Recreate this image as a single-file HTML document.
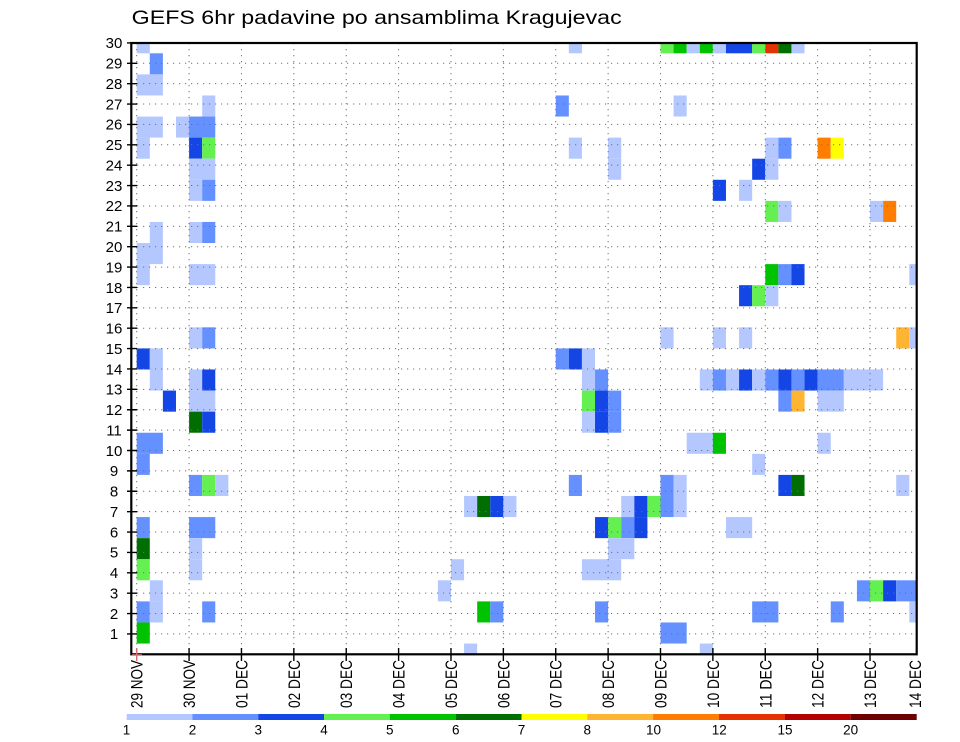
<!DOCTYPE html>
<html>
<head>
<meta charset="utf-8">
<style>
  html,body{margin:0;padding:0;background:#fff;}
  svg{display:block;}
  text{font-family:"Liberation Sans",Arial,sans-serif;fill:#000;}
  .a1{fill:#b4c8ff}
  .a2{fill:#6491ff}
  .a3{fill:#1446e6}
  .a4{fill:#64f050}
  .a5{fill:#00c300}
  .a6{fill:#006e00}
  .a7{fill:#ffff00}
  .a8{fill:#ffb432}
  .a9{fill:#ff7d00}
  .a10{fill:#e63200}
  .a11{fill:#b40000}
  .a12{fill:#6e0000}
</style>
</head>
<body>
<svg width="960" height="742" viewBox="0 0 960 742" xmlns="http://www.w3.org/2000/svg">
  <defs>
    <clipPath id="plot"><rect x="131" y="43" width="785.7" height="611.3"/></clipPath>
  </defs>

  <!-- Title -->
  <text x="131.7" y="24" font-size="19.5" textLength="490" lengthAdjust="spacingAndGlyphs">GEFS 6hr padavine po ansamblima Kragujevac</text>

  <!-- Cells -->
  <g clip-path="url(#plot)">
    <g transform="translate(136.7,32.22) scale(13.095,21.08)">
      <!-- band 0 -->
      <rect class="a1" x="0" y="0" width="1" height="1"/>
      <rect class="a1" x="33" y="0" width="1" height="1"/>
      <rect class="a4" x="40" y="0" width="1" height="1"/>
      <rect class="a5" x="41" y="0" width="1" height="1"/>
      <rect class="a1" x="42" y="0" width="1" height="1"/>
      <rect class="a5" x="43" y="0" width="1" height="1"/>
      <rect class="a1" x="44" y="0" width="1" height="1"/>
      <rect class="a3" x="45" y="0" width="2" height="1"/>
      <rect class="a4" x="47" y="0" width="1" height="1"/>
      <rect class="a10" x="48" y="0" width="1" height="1"/>
      <rect class="a6" x="49" y="0" width="1" height="1"/>
      <rect class="a1" x="50" y="0" width="1" height="1"/>
      <!-- band 1 -->
      <rect class="a2" x="1" y="1" width="1" height="1"/>
      <!-- band 2 -->
      <rect class="a1" x="0" y="2" width="2" height="1"/>
      <!-- band 3 -->
      <rect class="a1" x="5" y="3" width="1" height="1"/>
      <rect class="a2" x="32" y="3" width="1" height="1"/>
      <rect class="a1" x="41" y="3" width="1" height="1"/>
      <!-- band 4 -->
      <rect class="a1" x="0" y="4" width="2" height="1"/>
      <rect class="a1" x="3" y="4" width="1" height="1"/>
      <rect class="a2" x="4" y="4" width="2" height="1"/>
      <!-- band 5 -->
      <rect class="a1" x="0" y="5" width="1" height="1"/>
      <rect class="a3" x="4" y="5" width="1" height="1"/>
      <rect class="a4" x="5" y="5" width="1" height="1"/>
      <rect class="a1" x="33" y="5" width="1" height="1"/>
      <rect class="a1" x="36" y="5" width="1" height="1"/>
      <rect class="a1" x="48" y="5" width="1" height="1"/>
      <rect class="a2" x="49" y="5" width="1" height="1"/>
      <rect class="a9" x="52" y="5" width="1" height="1"/>
      <rect class="a7" x="53" y="5" width="1" height="1"/>
      <!-- band 6 -->
      <rect class="a1" x="4" y="6" width="2" height="1"/>
      <rect class="a1" x="36" y="6" width="1" height="1"/>
      <rect class="a3" x="47" y="6" width="1" height="1"/>
      <rect class="a1" x="48" y="6" width="1" height="1"/>
      <!-- band 7 -->
      <rect class="a1" x="4" y="7" width="1" height="1"/>
      <rect class="a2" x="5" y="7" width="1" height="1"/>
      <rect class="a3" x="44" y="7" width="1" height="1"/>
      <rect class="a1" x="46" y="7" width="1" height="1"/>
      <!-- band 8 -->
      <rect class="a4" x="48" y="8" width="1" height="1"/>
      <rect class="a1" x="49" y="8" width="1" height="1"/>
      <rect class="a1" x="56" y="8" width="1" height="1"/>
      <rect class="a9" x="57" y="8" width="1" height="1"/>
      <!-- band 9 -->
      <rect class="a1" x="1" y="9" width="1" height="1"/>
      <rect class="a1" x="4" y="9" width="1" height="1"/>
      <rect class="a2" x="5" y="9" width="1" height="1"/>
      <!-- band 10 -->
      <rect class="a1" x="0" y="10" width="2" height="1"/>
      <!-- band 11 -->
      <rect class="a1" x="0" y="11" width="1" height="1"/>
      <rect class="a1" x="4" y="11" width="2" height="1"/>
      <rect class="a5" x="48" y="11" width="1" height="1"/>
      <rect class="a2" x="49" y="11" width="1" height="1"/>
      <rect class="a3" x="50" y="11" width="1" height="1"/>
      <rect class="a1" x="59" y="11" width="1" height="1"/>
      <!-- band 12 -->
      <rect class="a3" x="46" y="12" width="1" height="1"/>
      <rect class="a4" x="47" y="12" width="1" height="1"/>
      <rect class="a1" x="48" y="12" width="1" height="1"/>
      <!-- band 14 -->
      <rect class="a1" x="4" y="14" width="1" height="1"/>
      <rect class="a2" x="5" y="14" width="1" height="1"/>
      <rect class="a1" x="40" y="14" width="1" height="1"/>
      <rect class="a1" x="44" y="14" width="1" height="1"/>
      <rect class="a1" x="46" y="14" width="1" height="1"/>
      <rect class="a8" x="58" y="14" width="1" height="1"/>
      <rect class="a1" x="59" y="14" width="1" height="1"/>
      <!-- band 15 -->
      <rect class="a3" x="0" y="15" width="1" height="1"/>
      <rect class="a1" x="1" y="15" width="1" height="1"/>
      <rect class="a2" x="32" y="15" width="1" height="1"/>
      <rect class="a3" x="33" y="15" width="1" height="1"/>
      <rect class="a1" x="34" y="15" width="1" height="1"/>
      <!-- band 16 -->
      <rect class="a1" x="1" y="16" width="1" height="1"/>
      <rect class="a1" x="4" y="16" width="1" height="1"/>
      <rect class="a3" x="5" y="16" width="1" height="1"/>
      <rect class="a1" x="34" y="16" width="1" height="1"/>
      <rect class="a2" x="35" y="16" width="1" height="1"/>
      <rect class="a1" x="43" y="16" width="1" height="1"/>
      <rect class="a2" x="44" y="16" width="1" height="1"/>
      <rect class="a1" x="45" y="16" width="1" height="1"/>
      <rect class="a3" x="46" y="16" width="1" height="1"/>
      <rect class="a1" x="47" y="16" width="1" height="1"/>
      <rect class="a2" x="48" y="16" width="1" height="1"/>
      <rect class="a3" x="49" y="16" width="1" height="1"/>
      <rect class="a2" x="50" y="16" width="1" height="1"/>
      <rect class="a3" x="51" y="16" width="1" height="1"/>
      <rect class="a2" x="52" y="16" width="2" height="1"/>
      <rect class="a1" x="54" y="16" width="3" height="1"/>
      <!-- band 17 -->
      <rect class="a3" x="2" y="17" width="1" height="1"/>
      <rect class="a1" x="4" y="17" width="2" height="1"/>
      <rect class="a4" x="34" y="17" width="1" height="1"/>
      <rect class="a3" x="35" y="17" width="1" height="1"/>
      <rect class="a2" x="36" y="17" width="1" height="1"/>
      <rect class="a2" x="49" y="17" width="1" height="1"/>
      <rect class="a8" x="50" y="17" width="1" height="1"/>
      <rect class="a1" x="52" y="17" width="2" height="1"/>
      <!-- band 18 -->
      <rect class="a6" x="4" y="18" width="1" height="1"/>
      <rect class="a3" x="5" y="18" width="1" height="1"/>
      <rect class="a1" x="34" y="18" width="1" height="1"/>
      <rect class="a3" x="35" y="18" width="1" height="1"/>
      <rect class="a2" x="36" y="18" width="1" height="1"/>
      <!-- band 19 -->
      <rect class="a2" x="0" y="19" width="2" height="1"/>
      <rect class="a1" x="42" y="19" width="2" height="1"/>
      <rect class="a5" x="44" y="19" width="1" height="1"/>
      <rect class="a1" x="52" y="19" width="1" height="1"/>
      <!-- band 20 -->
      <rect class="a2" x="0" y="20" width="1" height="1"/>
      <rect class="a1" x="47" y="20" width="1" height="1"/>
      <!-- band 21 -->
      <rect class="a2" x="4" y="21" width="1" height="1"/>
      <rect class="a4" x="5" y="21" width="1" height="1"/>
      <rect class="a1" x="6" y="21" width="1" height="1"/>
      <rect class="a2" x="33" y="21" width="1" height="1"/>
      <rect class="a2" x="40" y="21" width="1" height="1"/>
      <rect class="a1" x="41" y="21" width="1" height="1"/>
      <rect class="a3" x="49" y="21" width="1" height="1"/>
      <rect class="a6" x="50" y="21" width="1" height="1"/>
      <rect class="a1" x="58" y="21" width="1" height="1"/>
      <!-- band 22 -->
      <rect class="a1" x="25" y="22" width="1" height="1"/>
      <rect class="a6" x="26" y="22" width="1" height="1"/>
      <rect class="a3" x="27" y="22" width="1" height="1"/>
      <rect class="a1" x="28" y="22" width="1" height="1"/>
      <rect class="a1" x="37" y="22" width="1" height="1"/>
      <rect class="a3" x="38" y="22" width="1" height="1"/>
      <rect class="a4" x="39" y="22" width="1" height="1"/>
      <rect class="a2" x="40" y="22" width="1" height="1"/>
      <rect class="a1" x="41" y="22" width="1" height="1"/>
      <!-- band 23 -->
      <rect class="a2" x="0" y="23" width="1" height="1"/>
      <rect class="a2" x="4" y="23" width="2" height="1"/>
      <rect class="a3" x="35" y="23" width="1" height="1"/>
      <rect class="a4" x="36" y="23" width="1" height="1"/>
      <rect class="a2" x="37" y="23" width="1" height="1"/>
      <rect class="a3" x="38" y="23" width="1" height="1"/>
      <rect class="a1" x="45" y="23" width="2" height="1"/>
      <!-- band 24 -->
      <rect class="a6" x="0" y="24" width="1" height="1"/>
      <rect class="a1" x="4" y="24" width="1" height="1"/>
      <rect class="a1" x="36" y="24" width="2" height="1"/>
      <!-- band 25 -->
      <rect class="a4" x="0" y="25" width="1" height="1"/>
      <rect class="a1" x="4" y="25" width="1" height="1"/>
      <rect class="a1" x="24" y="25" width="1" height="1"/>
      <rect class="a1" x="34" y="25" width="3" height="1"/>
      <!-- band 26 -->
      <rect class="a1" x="1" y="26" width="1" height="1"/>
      <rect class="a1" x="23" y="26" width="1" height="1"/>
      <rect class="a2" x="55" y="26" width="1" height="1"/>
      <rect class="a4" x="56" y="26" width="1" height="1"/>
      <rect class="a3" x="57" y="26" width="1" height="1"/>
      <rect class="a2" x="58" y="26" width="2" height="1"/>
      <!-- band 27 -->
      <rect class="a2" x="0" y="27" width="1" height="1"/>
      <rect class="a1" x="1" y="27" width="1" height="1"/>
      <rect class="a2" x="5" y="27" width="1" height="1"/>
      <rect class="a5" x="26" y="27" width="1" height="1"/>
      <rect class="a2" x="27" y="27" width="1" height="1"/>
      <rect class="a2" x="35" y="27" width="1" height="1"/>
      <rect class="a2" x="47" y="27" width="2" height="1"/>
      <rect class="a2" x="53" y="27" width="1" height="1"/>
      <rect class="a1" x="59" y="27" width="1" height="1"/>
      <!-- band 28 -->
      <rect class="a5" x="0" y="28" width="1" height="1"/>
      <rect class="a2" x="40" y="28" width="2" height="1"/>
      <!-- band 29 -->
      <rect class="a1" x="25" y="29" width="1" height="1"/>
      <rect class="a1" x="43" y="29" width="1" height="1"/>
    </g>
  </g>

  <!-- Dotted grid -->
  <g stroke="#707070" stroke-width="1" stroke-dasharray="1.2 4.8" fill="none">
    <path d="M131 633.92H916.7M131 613.54H916.7M131 593.16H916.7M131 572.78H916.7M131 552.4H916.7M131 532.02H916.7M131 511.64H916.7M131 491.26H916.7M131 470.88H916.7M131 450.5H916.7M131 430.12H916.7M131 409.74H916.7M131 389.36H916.7M131 368.98H916.7M131 348.6H916.7M131 328.22H916.7M131 307.84H916.7M131 287.46H916.7M131 267.08H916.7M131 246.7H916.7M131 226.32H916.7M131 205.94H916.7M131 185.56H916.7M131 165.18H916.7M131 144.8H916.7M131 124.42H916.7M131 104.04H916.7M131 83.66H916.7M131 63.28H916.7"/>
    <path d="M136.7 43V654M189.08 43V654M241.46 43V654M293.84 43V654M346.22 43V654M398.6 43V654M450.98 43V654M503.36 43V654M555.74 43V654M608.12 43V654M660.5 43V654M712.88 43V654M765.26 43V654M817.64 43V654M870.02 43V654"/>
  </g>

  <!-- Axis frame -->
  <rect x="131.3" y="43" width="785.4" height="611.3" fill="none" stroke="#000" stroke-width="2.2"/>

  <!-- Y ticks -->
  <path stroke="#000" stroke-width="1.4" fill="none" d="M127 633.92H137M127 613.54H137M127 593.16H137M127 572.78H137M127 552.4H137M127 532.02H137M127 511.64H137M127 491.26H137M127 470.88H137M127 450.5H137M127 430.12H137M127 409.74H137M127 389.36H137M127 368.98H137M127 348.6H137M127 328.22H137M127 307.84H137M127 287.46H137M127 267.08H137M127 246.7H137M127 226.32H137M127 205.94H137M127 185.56H137M127 165.18H137M127 144.8H137M127 124.42H137M127 104.04H137M127 83.66H137M127 63.28H137M127 42.9H137"/>

  <!-- X ticks -->
  <path stroke="#000" stroke-width="1.4" fill="none" d="M189.08 648V661M241.46 648V661M293.84 648V661M346.22 648V661M398.6 648V661M450.98 648V661M503.36 648V661M555.74 648V661M608.12 648V661M660.5 648V661M712.88 648V661M765.26 648V661M817.64 648V661M870.02 648V661"/>
  <path stroke="#d07070" stroke-width="1.4" fill="none" d="M136.7 648V661M132 655H142"/>

  <!-- Y labels -->
  <g font-size="15" text-anchor="middle">
    <text x="114" y="639.2">1</text>
    <text x="114" y="618.8">2</text>
    <text x="114" y="598.5">3</text>
    <text x="114" y="578.1">4</text>
    <text x="114" y="557.7">5</text>
    <text x="114" y="537.3">6</text>
    <text x="114" y="516.9">7</text>
    <text x="114" y="496.6">8</text>
    <text x="114" y="476.2">9</text>
    <text x="114" y="455.8">10</text>
    <text x="114" y="435.4">11</text>
    <text x="114" y="415">12</text>
    <text x="114" y="394.7">13</text>
    <text x="114" y="374.3">14</text>
    <text x="114" y="353.9">15</text>
    <text x="114" y="333.5">16</text>
    <text x="114" y="313.1">17</text>
    <text x="114" y="292.8">18</text>
    <text x="114" y="272.4">19</text>
    <text x="114" y="252">20</text>
    <text x="114" y="231.6">21</text>
    <text x="114" y="211.2">22</text>
    <text x="114" y="190.9">23</text>
    <text x="114" y="170.5">24</text>
    <text x="114" y="150.1">25</text>
    <text x="114" y="129.7">26</text>
    <text x="114" y="109.3">27</text>
    <text x="114" y="89">28</text>
    <text x="114" y="68.6">29</text>
    <text x="114" y="48.2">30</text>
  </g>

  <!-- X labels (rotated) -->
  <g font-size="16.5">
    <text transform="translate(136.7,708) rotate(-90)" x="0" y="6" textLength="48" lengthAdjust="spacingAndGlyphs">29 NOV</text>
    <text transform="translate(189.08,708) rotate(-90)" x="0" y="6" textLength="48" lengthAdjust="spacingAndGlyphs">30 NOV</text>
    <text transform="translate(241.46,708) rotate(-90)" x="0" y="6" textLength="48" lengthAdjust="spacingAndGlyphs">01 DEC</text>
    <text transform="translate(293.84,708) rotate(-90)" x="0" y="6" textLength="48" lengthAdjust="spacingAndGlyphs">02 DEC</text>
    <text transform="translate(346.22,708) rotate(-90)" x="0" y="6" textLength="48" lengthAdjust="spacingAndGlyphs">03 DEC</text>
    <text transform="translate(398.6,708) rotate(-90)" x="0" y="6" textLength="48" lengthAdjust="spacingAndGlyphs">04 DEC</text>
    <text transform="translate(450.98,708) rotate(-90)" x="0" y="6" textLength="48" lengthAdjust="spacingAndGlyphs">05 DEC</text>
    <text transform="translate(503.36,708) rotate(-90)" x="0" y="6" textLength="48" lengthAdjust="spacingAndGlyphs">06 DEC</text>
    <text transform="translate(555.74,708) rotate(-90)" x="0" y="6" textLength="48" lengthAdjust="spacingAndGlyphs">07 DEC</text>
    <text transform="translate(608.12,708) rotate(-90)" x="0" y="6" textLength="48" lengthAdjust="spacingAndGlyphs">08 DEC</text>
    <text transform="translate(660.5,708) rotate(-90)" x="0" y="6" textLength="48" lengthAdjust="spacingAndGlyphs">09 DEC</text>
    <text transform="translate(712.88,708) rotate(-90)" x="0" y="6" textLength="48" lengthAdjust="spacingAndGlyphs">10 DEC</text>
    <text transform="translate(765.26,708) rotate(-90)" x="0" y="6" textLength="48" lengthAdjust="spacingAndGlyphs">11 DEC</text>
    <text transform="translate(817.64,708) rotate(-90)" x="0" y="6" textLength="48" lengthAdjust="spacingAndGlyphs">12 DEC</text>
    <text transform="translate(870.02,708) rotate(-90)" x="0" y="6" textLength="48" lengthAdjust="spacingAndGlyphs">13 DEC</text>
    <text transform="translate(915,708) rotate(-90)" x="0" y="6" textLength="48" lengthAdjust="spacingAndGlyphs">14 DEC</text>
  </g>

  <!-- Legend bar -->
  <g>
    <rect class="a1" x="126.7" y="714" width="65.9" height="6"/>
    <rect class="a2" x="192.5" y="714" width="65.9" height="6"/>
    <rect class="a3" x="258.3" y="714" width="65.9" height="6"/>
    <rect class="a4" x="324.0" y="714" width="65.9" height="6"/>
    <rect class="a5" x="389.8" y="714" width="65.9" height="6"/>
    <rect class="a6" x="455.7" y="714" width="65.9" height="6"/>
    <rect class="a7" x="521.5" y="714" width="65.9" height="6"/>
    <rect class="a8" x="587.3" y="714" width="65.9" height="6"/>
    <rect class="a9" x="653.1" y="714" width="65.9" height="6"/>
    <rect class="a10" x="719.0" y="714" width="65.9" height="6"/>
    <rect class="a11" x="784.8" y="714" width="65.9" height="6"/>
    <rect class="a12" x="850.7" y="714" width="66" height="6"/>
  </g>
  <g font-size="13.5" text-anchor="middle">
    <text x="126.5" y="734.5">1</text>
    <text x="192.5" y="734.5">2</text>
    <text x="258.3" y="734.5">3</text>
    <text x="324" y="734.5">4</text>
    <text x="389.8" y="734.5">5</text>
    <text x="455.7" y="734.5">6</text>
    <text x="521.5" y="734.5">7</text>
    <text x="587.3" y="734.5">8</text>
    <text x="653.5" y="734.5">10</text>
    <text x="719.3" y="734.5">12</text>
    <text x="785" y="734.5">15</text>
    <text x="850.7" y="734.5">20</text>
  </g>
</svg>
</body>
</html>
